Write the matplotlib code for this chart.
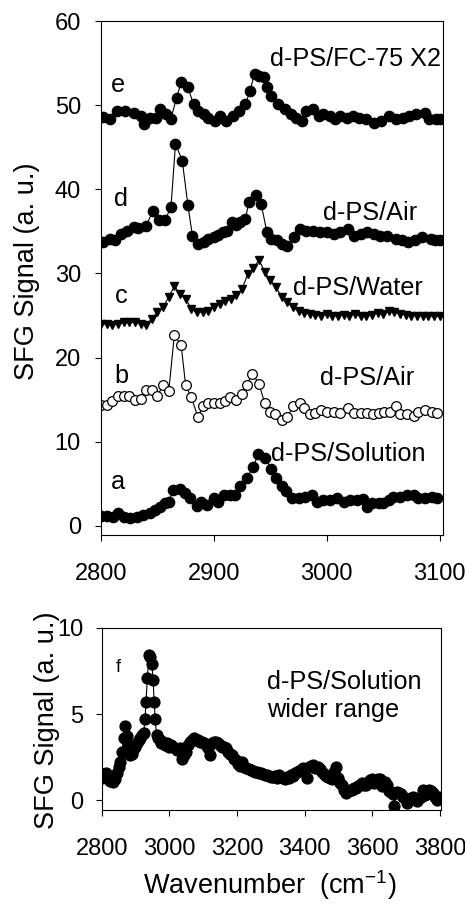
import matplotlib
matplotlib.use("Agg")
import matplotlib.pyplot as plt

plt.rcParams['font.family'] = ['Liberation Sans', 'DejaVu Sans']
plt.rcParams['mathtext.fontset'] = 'custom'
plt.rcParams['mathtext.rm'] = 'Liberation Sans'
plt.rcParams['mathtext.it'] = 'Liberation Sans'

# ---------------- data ----------------
# a: d-PS/Solution
a_x = [2800, 2805, 2811, 2815, 2820, 2826, 2832, 2837, 2843, 2848, 2852, 2857, 2860,
       2864, 2870, 2874, 2879, 2885, 2889, 2894, 2900, 2904, 2909, 2914, 2919, 2923,
       2929, 2935, 2939, 2945, 2951, 2955, 2960, 2964, 2969, 2975, 2981, 2987, 2991,
       2997, 3003, 3009, 3015, 3021, 3027, 3032, 3036, 3040, 3046, 3050, 3055, 3059,
       3065, 3071, 3077, 3081, 3087, 3093, 3098]
a_y = [1.2, 1.2, 1.1, 1.5, 1.1, 0.9, 1.1, 1.3, 1.5, 1.9, 2.3, 2.7, 2.9,
       4.3, 4.4, 3.9, 3.3, 2.4, 2.9, 2.5, 3.3, 2.9, 3.7, 3.7, 3.7, 4.7,
       5.7, 7.0, 8.5, 8.1, 6.8, 5.7, 4.7, 4.1, 3.3, 3.3, 3.5, 3.7, 2.9,
       3.1, 3.1, 3.3, 2.9, 3.1, 3.1, 3.2, 2.3, 2.7, 2.7, 2.7, 3.1, 3.5,
       3.5, 3.7, 3.7, 3.3, 3.3, 3.5, 3.3]

# b: d-PS/Air (open circles)
b_x = [2800, 2805, 2810, 2815, 2820, 2825, 2830, 2835, 2840, 2845, 2850, 2855, 2860, 2865,
       2871, 2875, 2880, 2886, 2890, 2895, 2900, 2905, 2910, 2914, 2920, 2925, 2929, 2934,
       2940, 2945, 2950, 2954, 2960, 2965, 2970, 2976, 2980, 2985, 2990, 2995, 3000, 3006,
       3012, 3019, 3024, 3030, 3036, 3041, 3046, 3051, 3056, 3061, 3065, 3071, 3077, 3081,
       3087, 3093, 3098]
b_y = [14.4, 14.4, 14.9, 15.4, 15.4, 15.5, 15.0, 15.1, 16.1, 16.1, 15.5, 16.7, 16.0, 22.7,
       21.5, 16.7, 15.3, 12.9, 14.2, 14.6, 14.6, 14.6, 14.9, 15.3, 15.0, 15.7, 16.7, 18.1,
       16.9, 14.6, 13.6, 13.3, 12.6, 12.9, 14.2, 14.6, 14.0, 13.3, 13.4, 13.8, 13.6, 13.6,
       13.4, 14.0, 13.4, 13.4, 13.4, 13.3, 13.4, 13.6, 13.6, 14.2, 13.3, 13.3, 13.1, 13.6,
       13.8, 13.6, 13.4]

# c: d-PS/Water (triangles)
c_x = list(range(2800, 3101, 5))
c_y = [24.0, 24.0, 23.9, 24.0, 24.2, 24.2, 24.2, 24.0, 23.9, 24.6,
       25.4, 26.0, 27.2, 28.5, 27.6, 27.0, 25.8, 25.4, 25.4, 25.6,
       26.0, 26.4, 26.7, 27.0, 27.4, 28.2, 29.9, 30.6, 31.6, 30.2,
       29.2, 28.4, 27.2, 26.6, 26.0, 25.5, 25.3, 25.2, 25.1, 25.0,
       25.2, 25.0, 24.9, 25.1, 25.0, 25.2, 24.9, 25.0, 25.1, 25.3,
       25.2, 25.5, 25.4, 25.2, 25.1, 25.0, 25.0, 24.9, 25.0, 24.9,
       24.9]

# d: d-PS/Air (filled circles)
d_x = [2802, 2808, 2812, 2818, 2823, 2829, 2833, 2840, 2846, 2851,
       2857, 2862, 2866, 2872, 2877, 2881, 2886, 2891, 2895, 2900,
       2904, 2908, 2912, 2916, 2920, 2923, 2928, 2931, 2937, 2942,
       2947, 2951, 2956, 2960, 2965, 2971, 2976, 2982, 2988, 2994,
       3000, 3006, 3012, 3019, 3024, 3030, 3036, 3042, 3047, 3053,
       3061, 3067, 3072, 3078, 3084, 3092, 3096, 3100]
d_y = [33.7, 34.1, 34.0, 34.7, 35.1, 35.5, 35.4, 35.7, 37.4, 36.4,
       36.4, 37.9, 45.4, 43.4, 38.1, 34.5, 33.5, 33.7, 34.1, 34.3,
       34.6, 34.9, 35.1, 36.1, 35.8, 36.1, 36.5, 38.5, 39.3, 38.2,
       34.9, 34.1, 34.0, 33.5, 33.3, 34.3, 35.3, 35.1, 35.0, 34.9,
       34.9, 34.7, 34.9, 35.3, 34.5, 34.7, 34.9, 34.7, 34.5, 34.5,
       34.1, 34.0, 33.7, 34.0, 34.3, 34.1, 34.0, 34.0]

# e: d-PS/FC-75 X2
e_x = [2802, 2808, 2814, 2821, 2829, 2835, 2838, 2843, 2849, 2852,
       2858, 2862, 2867, 2871, 2877, 2882, 2886, 2891, 2895, 2901,
       2905, 2911, 2917, 2922, 2928, 2932, 2936, 2940, 2944, 2947,
       2951, 2957, 2963, 2968, 2973, 2978, 2982, 2988, 2993, 2997,
       3003, 3007, 3012, 3018, 3023, 3029, 3035, 3042, 3048, 3055,
       3061, 3068, 3073, 3079, 3087, 3091, 3097, 3100]
e_y = [48.6, 48.4, 49.3, 49.3, 49.1, 48.7, 47.8, 48.5, 48.5, 49.5,
       49.0, 48.4, 50.9, 52.7, 52.1, 50.1, 49.3, 49.0, 48.5, 48.1,
       48.7, 48.1, 48.7, 49.3, 50.1, 51.7, 53.7, 53.5, 53.3, 52.1,
       51.1, 50.1, 49.5, 49.0, 48.5, 48.1, 49.3, 49.5, 48.7, 49.0,
       48.7, 48.3, 48.7, 48.5, 48.7, 48.5, 48.3, 47.9, 48.1, 48.7,
       48.3, 48.5, 48.7, 49.0, 49.1, 48.3, 48.3, 48.3]

# f: d-PS/Solution, wider range
f_x = [2800, 2806, 2812, 2818, 2825, 2832, 2839, 2845, 2850, 2855, 2860, 2865, 2869, 2874,
       2879, 2884, 2889, 2894, 2899, 2904, 2909, 2914, 2919, 2924, 2928, 2931, 2935, 2940,
       2944, 2948, 2952, 2955, 2958, 2962, 2966, 2971, 2976, 2982, 2988, 2994, 3000, 3006,
       3012, 3018, 3024, 3030, 3036, 3042, 3048, 3054, 3060, 3066, 3072, 3078, 3084, 3090,
       3096, 3102, 3108, 3114, 3120, 3126, 3132, 3138, 3144, 3150, 3156, 3162, 3168, 3174,
       3180, 3186, 3192, 3198, 3204, 3210, 3216, 3222, 3228, 3234, 3240, 3246, 3252, 3258,
       3264, 3270, 3276, 3282, 3288, 3294, 3300, 3306, 3312, 3318, 3324, 3330, 3336, 3342,
       3348, 3354, 3360, 3366, 3372, 3378, 3384, 3390, 3396, 3402, 3408, 3414, 3420, 3426,
       3432, 3438, 3444, 3450, 3456, 3462, 3468, 3474, 3480, 3486, 3492, 3498, 3504, 3510,
       3516, 3522, 3528, 3534, 3540, 3546, 3552, 3558, 3564, 3570, 3576, 3582, 3588, 3594,
       3600, 3606, 3612, 3618, 3624, 3630, 3636, 3642, 3648, 3654, 3660, 3665, 3672, 3678,
       3684, 3690, 3696, 3702, 3708, 3714, 3720, 3726, 3732, 3738, 3744, 3750, 3756, 3762,
       3768, 3774, 3780, 3786, 3792, 3798]
f_y = [1.3, 1.5, 1.55, 1.4, 1.1, 1.05, 1.2, 1.55, 1.9, 2.2, 2.8, 3.6, 4.3, 3.7,
       3.2, 2.6, 2.7, 2.9, 3.1, 3.3, 3.5, 3.6, 3.8, 3.9, 4.7, 5.7, 7.1, 8.45,
       8.3, 7.9, 7.0, 5.7, 4.7, 3.8, 3.6, 3.5, 3.3, 3.4, 3.2, 3.3, 3.1, 3.2,
       3.1, 3.0, 2.9, 3.0, 2.4, 2.6, 2.8, 3.2, 3.4, 3.5, 3.6, 3.5, 3.5, 3.4,
       3.4, 3.3, 3.2, 3.0, 2.6, 3.3, 3.4, 3.4, 3.3, 3.2, 3.1, 3.1, 3.0, 2.8,
       2.7, 2.6, 2.4, 2.3, 2.1, 2.0, 2.2, 1.9, 1.85, 1.8, 1.75, 1.7, 1.65, 1.6,
       1.55, 1.55, 1.5, 1.45, 1.45, 1.4, 1.35, 1.35, 1.4, 1.3, 1.45, 1.35, 1.3, 1.25,
       1.35, 1.3, 1.45, 1.4, 1.55, 1.6, 1.7, 1.75, 1.85, 1.8, 1.3, 1.9, 2.0, 2.05,
       1.85, 1.9, 1.8, 1.65, 1.5, 1.4, 1.35, 1.3, 1.2, 1.6, 1.9, 1.3, 1.0, 0.85,
       0.6, 0.4, 0.55, 0.6, 0.6, 0.7, 0.7, 0.8, 0.9, 1.0, 0.85, 0.9, 1.05, 1.15,
       1.2, 1.0, 1.1, 1.25, 1.2, 0.8, 1.05, 0.9, 0.5, 0.45, 0.35, -0.35, 0.45, 0.4,
       0.35, 0.2, 0.1, -0.15, 0.0, 0.1, 0.2, 0.05, -0.05, 0.1, 0.2, 0.6, 0.3, 0.4,
       0.6, 0.55, 0.4, 0.2, 0.0, 0.15]

top_xticks = [2800, 2900, 3000, 3100]
top_yticks = [0, 10, 20, 30, 40, 50, 60]
bot_xticks = [2800, 3000, 3200, 3400, 3600, 3800]
bot_yticks = [0, 5, 10]

# ---------------- figure ----------------
W, H = 465, 907
fig = plt.figure(figsize=(W / 100, H / 100), dpi=100)

def fx(px):
    return px / W

def fy(py):
    return 1 - py / H

ax1 = fig.add_axes([fx(101), fy(535), fx(443) - fx(101), fy(21) - fy(535)])
ax2 = fig.add_axes([fx(101.7), fy(810), fx(441) - fx(101.7), fy(628) - fy(810)])

TICK_FS = 17
ANN_FS = 18.2
LW = 0.8

line_kw = dict(color='black', lw=LW)
ax1.plot(a_x, a_y, marker='o', ms=7.4, mfc='black', mec='black', **line_kw)
ax1.plot(b_x, b_y, marker='o', ms=7.0, mfc='white', mec='black', mew=0.9, **line_kw)
ax1.plot(c_x, c_y, marker='v', ms=5.8, mfc='black', mec='black', **line_kw)
ax1.plot(d_x, d_y, marker='o', ms=7.4, mfc='black', mec='black', **line_kw)
ax1.plot(e_x, e_y, marker='o', ms=7.4, mfc='black', mec='black', **line_kw)

ax1.set_xlim(2800, 3103)
ax1.set_ylim(-1.07, 60)
ax1.set_xticks(top_xticks)
ax1.set_yticks(top_yticks)

ax2.plot(f_x, f_y, marker='o', ms=7.8, mfc='black', mec='black', **line_kw)
ax2.set_xlim(2800, 3803)
ax2.set_ylim(-0.58, 10)
ax2.set_xticks(bot_xticks)
ax2.set_yticks(bot_yticks)

for ax in (ax1, ax2):
    for s in ax.spines.values():
        s.set_linewidth(0.8)
        s.set_color('black')
    ax.tick_params(axis='both', which='major', direction='out', length=4.5,
                   width=0.8, labelsize=TICK_FS, top=False, right=False)
    ax.tick_params(axis='x', pad=15.5)

ax1.tick_params(axis='y', pad=10)
ax2.tick_params(axis='y', pad=8.5)

# curve letters
for lbl, x, y in [('e', 2815, 51.6), ('d', 2818, 38.0), ('c', 2818, 26.5),
                  ('b', 2818, 17.0), ('a', 2815, 4.35)]:
    ax1.text(x, y, lbl, fontsize=ANN_FS, ha='center', va='baseline')

for txt, x, y in [('d-PS/FC-75 X2', 2950, 54.7), ('d-PS/Air', 2997, 36.3),
                  ('d-PS/Water', 2970, 27.4), ('d-PS/Air', 2994, 16.7),
                  ('d-PS/Solution', 2951, 7.75)]:
    ax1.text(x, y, txt, fontsize=ANN_FS, ha='left', va='baseline')

ax2.text(2848, 7.47, 'f', fontsize=13, ha='center', va='baseline')
ax2.text(3288, 6.44, 'd-PS/Solution', fontsize=ANN_FS, ha='left', va='baseline')
ax2.text(3288, 4.85, 'wider range', fontsize=ANN_FS, ha='left', va='baseline')

# axis labels
fig.text(fx(27.5), fy(271), 'SFG Signal (a. u.)', rotation=90, fontsize=19.5,
         ha='center', va='center')
fig.text(fx(46.5), fy(720), 'SFG Signal (a. u.)', rotation=90, fontsize=19.5,
         ha='center', va='center')
fig.text(fx(269.5), fy(885), r'Wavenumber  (cm$^{\mathregular{-1}}$)', fontsize=19.5,
         ha='center', va='center')

fig.savefig('out.png', dpi=100)
